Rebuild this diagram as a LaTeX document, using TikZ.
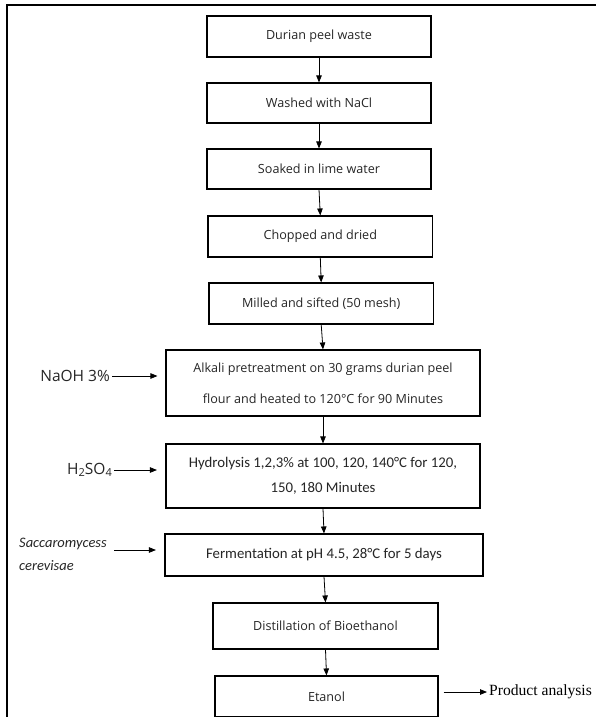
\documentclass[tikz,border=0pt]{standalone}
\usepackage{fontspec}
\setmainfont{Open Sans}
\newfontfamily\calib{Carlito}
\newfontfamily\tnr{Liberation Serif}
\usetikzlibrary{arrows.meta}
\newcommand{\mysub}[1]{\raisebox{-0.3ex}{\fontsize{11}{11}\selectfont #1}}
\begin{document}
\begin{tikzpicture}[x=1pt,y=-1pt,
  stepbox/.style={draw=black, line width=1.1pt, inner sep=0pt, align=center,
    text=black!85, font=\fontsize{12.6}{15}\selectfont},
  calbox/.style={stepbox, font=\calib\fontsize{14.8}{17}\selectfont},
  flow/.style={-{Triangle[length=7pt,width=5.5pt]}, line width=0.8pt},
  lbl/.style={inner sep=0pt, text=black!85}]
\useasboundingbox (0,0) rectangle (595,717);
\fill[white] (0,0) rectangle (595,717);
\draw[line width=1.8pt] (7,5) rectangle (650,780);

\node[stepbox, minimum width=224, minimum height=41] (b1) at (319,36.5) {Durian peel waste};
\node[stepbox, minimum width=224, minimum height=40] (b2) at (319,103) {Washed with NaCl};
\node[stepbox, minimum width=224, minimum height=40] (b3) at (319,169) {Soaked in lime water};
\node[stepbox, minimum width=224.6, minimum height=41] (b4) at (320.3,236.5) {Chopped and dried};
\node[stepbox, minimum width=224.4, minimum height=41] (b5) at (321.2,303.5) {Milled and sifted (50 mesh)};
\node[stepbox, minimum width=314, minimum height=66] (b6) at (323,383)
  {Alkali pretreatment on 30 grams durian peel\\[16pt] flour and heated to 120°C for 90 Minutes};
\node[calbox, minimum width=314, minimum height=64] (b7) at (323,476)
  {Hydrolysis 1,2,3\% at 100, 120, 140°C for 120,\\[8pt] 150, 180 Minutes};
\node[calbox, minimum width=318, minimum height=42] (b8) at (324,555)
  {Fermentation at pH 4.5, 28°C for 5 days};
\node[stepbox, minimum width=225, minimum height=46] (b9) at (325.5,626) {Distillation of Bioethanol};
\node[stepbox, minimum width=223, minimum height=41] (b10) at (326.5,696.5) {Etanol};

\foreach \a/\b in {b1/b2,b2/b3,b3/b4,b4/b5,b5/b6,b6/b7,b7/b8,b8/b9,b9/b10}
  \draw[flow] (\a.south) -- (\b.north);

\node[lbl, anchor=east, font=\fontsize{15.5}{18}\selectfont] (naoh) at (110,376) {NaOH 3\%};
\draw[flow, shorten >=8pt, shorten <=2pt] (naoh.east) -- (naoh.east -| b6.west);

\node[lbl, anchor=east, font=\fontsize{15.5}{18}\selectfont] (h2so4) at (112,470) {H\mysub{2}SO\mysub{4}};
\draw[flow, shorten >=8.5pt, shorten <=2pt] (h2so4.east) -- (h2so4.east -| b7.west);

\node[lbl, anchor=west, align=left, font=\calib\itshape\fontsize{14.5}{23}\selectfont] (sacc) at (19,554.5) {Saccaromycess\\cerevisae};
\coordinate (sa) at (114,550);
\draw[flow, shorten >=8.5pt] (sa) -- (sa -| b8.west);

\node[anchor=west, inner sep=0pt, font=\tnr\fontsize{15.6}{19}\selectfont] (prod) at (489,692) {Product analysis};
\draw[flow, shorten <=5pt, shorten >=2pt] (b10.east |- prod.west) -- (prod.west);
\end{tikzpicture}
\end{document}
